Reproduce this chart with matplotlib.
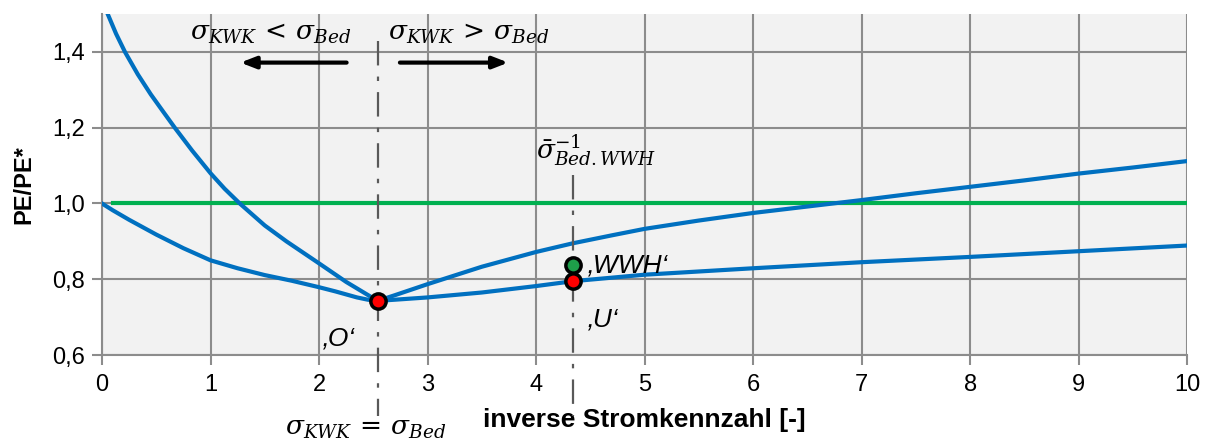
import matplotlib.pyplot as plt
from matplotlib.ticker import FuncFormatter

plt.rcParams['font.family'] = ['Liberation Sans', 'DejaVu Sans']
plt.rcParams['mathtext.fontset'] = 'dejavuserif'

# curve through the optimum, steep on the left, rising to the right
xa = [0.053, 0.13, 0.212, 0.33, 0.45, 0.56, 0.671, 0.83, 1.0, 1.13, 1.27, 1.5, 1.7, 2.0, 2.25, 2.54,
      2.7, 3.0, 3.5, 4.0, 4.34, 4.7, 5.0, 5.5, 6.0, 6.5, 7.0, 7.5, 8.0, 8.5, 9.0, 9.5, 10.0]
ya = [1.5, 1.448, 1.4, 1.341, 1.288, 1.244, 1.2, 1.14, 1.08, 1.039, 1.0, 0.942, 0.9, 0.842, 0.793, 0.743,
      0.758, 0.787, 0.833, 0.872, 0.895, 0.916, 0.933, 0.955, 0.975, 0.992, 1.009, 1.027, 1.044, 1.061, 1.079, 1.095, 1.112]

# curve starting at 1,0, flat bottom, slow rise to the right
xb = [0.0, 0.1, 0.25, 0.5, 0.75, 1.0, 1.25, 1.5, 1.75, 2.0, 2.15, 2.25, 2.35, 2.45, 2.54, 2.7, 3.0,
      3.5, 4.0, 4.345, 5.0, 6.0, 7.0, 8.0, 9.0, 10.0]
yb = [1.0, 0.982, 0.957, 0.918, 0.882, 0.85, 0.829, 0.811, 0.796, 0.779, 0.768, 0.76, 0.752, 0.746, 0.743, 0.746, 0.752,
      0.765, 0.782, 0.795, 0.812, 0.829, 0.845, 0.859, 0.874, 0.889]

# reference line PE/PE* = 1
xref = [0.1, 10.0]
yref = [1.0, 1.0]

# marked points
pt_o = (2.54, 0.743)
pt_u = (4.345, 0.795)
pt_wwh = (4.345, 0.838)

fig = plt.figure(figsize=(12.07, 4.41), dpi=100)
ax = fig.add_axes([0.0845, 0.195, 0.899, 0.773])
ax.set_facecolor('#f2f2f2')

ax.set_xlim(0, 10)
ax.set_ylim(0.6, 1.5)
ax.set_xticks(range(0, 11))
ax.set_yticks([0.6, 0.8, 1.0, 1.2, 1.4])
ax.yaxis.set_major_formatter(FuncFormatter(lambda v, p: f"{v:.1f}".replace('.', ',')))
ax.grid(True, color='#8c8c8c', lw=1.5)
ax.set_axisbelow(True)
for s in ['top', 'right']:
    ax.spines[s].set_visible(False)
for s in ['left', 'bottom']:
    ax.spines[s].set_color('#8c8c8c')
    ax.spines[s].set_linewidth(1.5)
ax.tick_params(axis='both', colors='#8c8c8c', labelcolor='black', labelsize=17, width=1.5, length=7)
ax.tick_params(axis='x', pad=7)
ax.tick_params(axis='y', pad=5)

ax.plot(xref, yref, color='#00b050', lw=3, zorder=2)
ax.plot(xa, ya, color='#0070c0', lw=3, zorder=3)
ax.plot(xb, yb, color='#0070c0', lw=3, zorder=3)

dash = (0, (11, 5, 2, 5))
ax.plot([pt_o[0], pt_o[0]], [1.43, 0.44], color='#595959', lw=1.6, ls=dash, clip_on=False, zorder=4)
ax.plot([pt_u[0], pt_u[0]], [1.075, 0.44], color='#595959', lw=1.6, ls=dash, clip_on=False, zorder=4)

ax.plot(*pt_o, 'o', color='red', mec='black', mew=2.5, ms=11, zorder=5)
ax.plot(*pt_wwh, 'o', color='#1e9e4a', mec='black', mew=2.5, ms=11, zorder=5)
ax.plot(*pt_u, 'o', color='red', mec='black', mew=2.5, ms=11, zorder=5)

ax.text(1.55, 1.415, r'$\sigma_{KWK}\,<\,\sigma_{Bed}$', fontsize=19, ha='center', va='bottom')
ax.text(3.38, 1.415, r'$\sigma_{KWK}\,>\,\sigma_{Bed}$', fontsize=19, ha='center', va='bottom')
ax.annotate('', xy=(1.25, 1.372), xytext=(2.28, 1.372),
            arrowprops=dict(arrowstyle='-|>,head_length=0.9,head_width=0.35', color='black', lw=3))
ax.annotate('', xy=(3.77, 1.372), xytext=(2.72, 1.372),
            arrowprops=dict(arrowstyle='-|>,head_length=0.9,head_width=0.35', color='black', lw=3))
ax.text(4.0, 1.14, r'$\bar{\sigma}_{Bed.WWH}^{-1}$', fontsize=19, ha='left', va='center')
ax.text(4.47, 0.836, '‚WWH‘', fontsize=19, style='italic', ha='left', va='center')
ax.text(4.47, 0.695, '‚U‘', fontsize=19, style='italic', ha='left', va='center')
ax.text(2.03, 0.643, '‚O‘', fontsize=19, style='italic', ha='left', va='center')
ax.text(2.43, 0.405, r'$\sigma_{KWK}\,=\,\sigma_{Bed}$', fontsize=19, ha='center', va='center', clip_on=False)

ax.set_xlabel('inverse Stromkennzahl [-]', fontsize=19, fontweight='bold', labelpad=8)
ax.set_ylabel('PE/PE*', fontsize=17, fontweight='bold', labelpad=12)

fig.savefig('out.png', dpi=100)
